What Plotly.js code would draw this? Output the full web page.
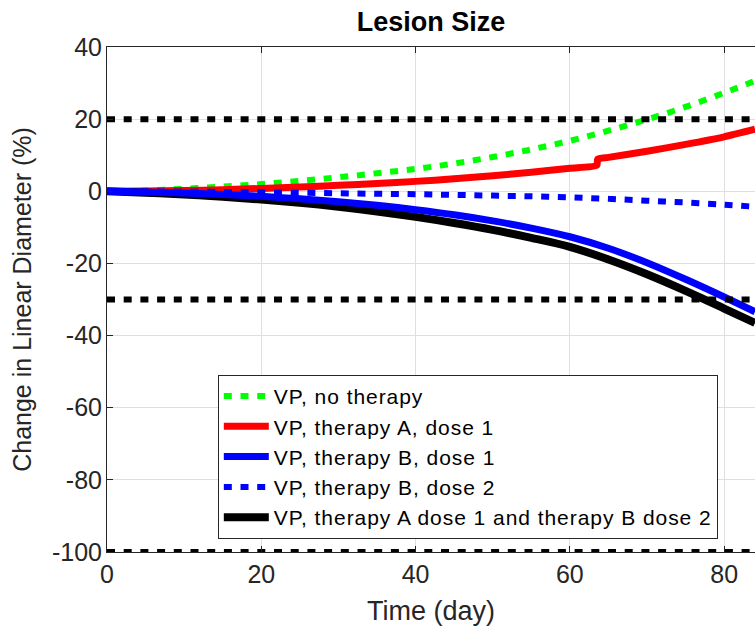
<!DOCTYPE html>
<html>
<head>
<meta charset="utf-8">
<script src="https://cdn.plot.ly/plotly-3.0.1.min.js"></script>
<style>
html,body{margin:0;padding:0;background:#fff;}
#chart{width:755px;height:629px;}
.legendtext{letter-spacing:0.95px;}
</style>
</head>
<body>
<div id="chart"></div>
<script>
// Time (day)
const days = [0, 5, 10, 15, 20, 25, 30, 35, 40, 45, 50, 55, 60, 65, 70, 75, 80, 84];
const noTherapy = [0, 0.2, 0.7, 1.3, 2.0, 2.9, 3.9, 5.0, 6.2, 7.7, 9.5, 11.6, 14.0, 16.8, 19.9, 23.4, 27.3, 30.6];
const daysA = [0, 5, 10, 15, 20, 25, 30, 35, 40, 45, 50, 55, 60, 63.5, 63.6, 65, 70, 75, 80, 84];
const therapyA1 = [0, 0.05, 0.2, 0.45, 0.8, 1.2, 1.65, 2.15, 2.75, 3.45, 4.3, 5.3, 6.4, 7.2, 8.9, 9.4, 11.1, 13.0, 15.1, 17.2];
const therapyB1 = [0, -0.2, -0.5, -0.9, -1.4, -2.1, -2.9, -3.9, -5.1, -6.5, -8.2, -10.2, -12.6, -15.8, -19.8, -24.4, -29.3, -33.4];
const therapyB2 = [0, -0.05, -0.1, -0.2, -0.3, -0.4, -0.55, -0.7, -0.8, -1.0, -1.2, -1.4, -1.7, -2.1, -2.6, -3.1, -3.7, -4.3];
const therapyA1B2 = [0, -0.4, -0.9, -1.5, -2.3, -3.2, -4.3, -5.6, -7.1, -8.8, -10.7, -12.9, -15.4, -18.9, -23.0, -27.6, -32.5, -36.5];
const thresholds = [20, -30, -100];
const thresholdX = [0, 84];
const seriesNames = ["VP, no therapy", "VP, therapy A, dose 1", "VP, therapy B, dose 1", "VP, therapy B, dose 2", "VP, therapy A dose 1 and therapy B dose 2"];
const xTicks = [0, 20, 40, 60, 80];
const yTicks = [-100, -80, -60, -40, -20, 0, 20, 40];

const FONT = "Liberation Sans, Arial, Helvetica, sans-serif";
const dotted = "8px,8.7px";

const traces = [
  {x: days, y: noTherapy, name: seriesNames[0], mode: "lines", line: {color: "#00ff00", width: 6, dash: dotted, shape: "spline", smoothing: 1}},
  {x: daysA, y: therapyA1, name: seriesNames[1], mode: "lines", line: {color: "#ff0000", width: 7, shape: "spline", smoothing: 0.6}},
  {x: days, y: therapyB1, name: seriesNames[2], mode: "lines", line: {color: "#0000ff", width: 7, shape: "spline", smoothing: 1}},
  {x: days, y: therapyB2, name: seriesNames[3], mode: "lines", line: {color: "#0000ff", width: 6, dash: dotted, shape: "spline", smoothing: 1}},
  {x: days, y: therapyA1B2, name: seriesNames[4], mode: "lines", line: {color: "#000000", width: 8, shape: "spline", smoothing: 1}}
];
// draw black before blue so blue is visible on top
const ordered = [traces[0], traces[1], traces[4], traces[2], traces[3]];
thresholds.forEach(v => {
  ordered.push({x: thresholdX, y: [v, v], mode: "lines", showlegend: false, hoverinfo: "skip",
    line: {color: "#000000", width: 6, dash: dotted}});
});
ordered.forEach(t => {
  const idx = seriesNames.indexOf(t.name);
  if (idx >= 0) t.legendrank = idx + 1;
});

const layout = {
  width: 755, height: 629,
  margin: {l: 107, r: 0, t: 47, b: 77},
  paper_bgcolor: "#ffffff", plot_bgcolor: "#ffffff",
  font: {family: FONT, color: "#262626"},
  showlegend: true,
  title: {text: "<b>Lesion Size</b>", font: {family: FONT, size: 27, color: "#000000"},
    x: 0.571, xanchor: "center", y: 0.965, yanchor: "middle", yref: "container"},
  xaxis: {
    range: [0, 84], tickvals: xTicks, ticktext: xTicks.map(String),
    showgrid: true, gridcolor: "#dfdfdf", gridwidth: 1,
    zeroline: false, showline: true, linecolor: "#262626", linewidth: 1, mirror: "ticks",
    ticks: "inside", ticklen: 6, tickcolor: "#262626", tickfont: {size: 25, color: "#262626"},
    title: {text: "Time (day)", font: {size: 27, color: "#262626"}, standoff: 14}
  },
  yaxis: {
    range: [-100, 40], tickvals: yTicks, ticktext: yTicks.map(String),
    showgrid: true, gridcolor: "#dfdfdf", gridwidth: 1,
    zeroline: false, showline: true, linecolor: "#262626", linewidth: 1, mirror: false,
    ticks: "inside", ticklen: 6, tickcolor: "#262626", tickfont: {size: 25, color: "#262626"},
    ticklabelstandoff: -1,
    title: {text: "Change in Linear Diameter (%)", font: {size: 25, color: "#262626"}, standoff: 13}
  },
  legend: {
    x: 0.171, xanchor: "left", y: 0.026, yanchor: "bottom",
    bgcolor: "#ffffff", bordercolor: "#262626", borderwidth: 1,
    font: {family: FONT, size: 21, color: "#000000"},
    itemwidth: 45,
    traceorder: "normal"
  }
};

Plotly.newPlot("chart", ordered, layout, {displayModeBar: false, staticPlot: true});
</script>
</body>
</html>
